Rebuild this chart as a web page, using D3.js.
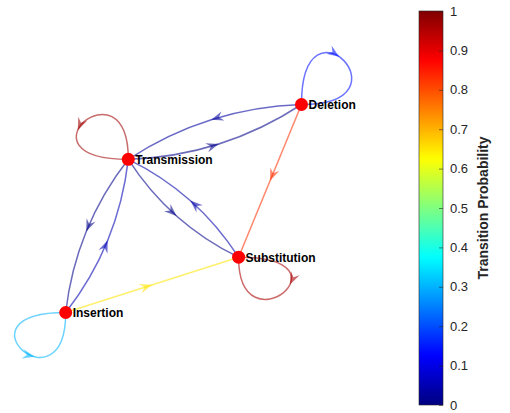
<!DOCTYPE html>
<html>
<head>
<meta charset="utf-8">
<script src="https://cdn.jsdelivr.net/npm/d3@7"></script>
<style>
  html, body { margin: 0; padding: 0; background: #fff; }
  svg { display: block; font-family: "Liberation Sans", Arial, Helvetica, sans-serif; }
</style>
</head>
<body>
<svg id="chart" width="510" height="413"></svg>
<script>
// ---------- data ----------
const nodeNames = ["Transmission", "Deletion", "Substitution", "Insertion"];
// graph layout coordinates (unit square, y up)
const layoutX = [0.3185, 0.8279, 0.6429, 0.1344];
const layoutY = [0.6491, 0.8103, 0.3612, 0.1985];

const edgeSource = ["Transmission", "Transmission", "Transmission", "Transmission",
                    "Deletion", "Deletion", "Deletion",
                    "Substitution", "Substitution",
                    "Insertion", "Insertion", "Insertion"];
const edgeTarget = ["Transmission", "Deletion", "Substitution", "Insertion",
                    "Deletion", "Transmission", "Substitution",
                    "Substitution", "Transmission",
                    "Insertion", "Transmission", "Substitution"];
const edgeProb   = [0.97, 0.01, 0.01, 0.01,
                    0.14, 0.03, 0.83,
                    0.96, 0.04,
                    0.30, 0.05, 0.65];

const cbTicks = [0, 0.1, 0.2, 0.3, 0.4, 0.5, 0.6, 0.7, 0.8, 0.9, 1];
const cbTitle = "Transition Probability";

// ---------- styles ----------
const loopStyle = {
  "Transmission": { dirs: [[0, -1], [-1, 0]], size: [101, 117], arrowT: 0.6 },
  "Deletion":     { dirs: [[0, -1], [1, 0]],  size: [117, 113], arrowT: 0.45 },
  "Substitution": { dirs: [[1, 0], [0, 1]],   size: [119, 95],  arrowT: 0.4 },
  "Insertion":    { dirs: [[-1, 0], [0, 1]],  size: [115, 101], arrowT: 0.62 }
};
const EDGE_ALPHA = 0.58;
const BOW = 0.14;

// jet colormap
function jet(v) {
  const c = x => Math.max(0, Math.min(1, x));
  const r = c(Math.min(4 * v - 1.5, -4 * v + 4.5));
  const g = c(Math.min(4 * v - 0.5, -4 * v + 3.5));
  const b = c(Math.min(4 * v + 0.5, -4 * v + 2.5));
  return d3.rgb(r * 255, g * 255, b * 255).formatHex();
}
const color = d3.scaleSequential(jet).domain([0, 1]);

const svg = d3.select("#chart");
const xS = d3.scaleLinear().domain([0, 1]).range([20, 360]);
const yS = d3.scaleLinear().domain([0, 1]).range([380, 40]);

const nodes = nodeNames.map((n, i) => ({ name: n, x: xS(layoutX[i]), y: yS(layoutY[i]) }));
const byName = Object.fromEntries(nodes.map(n => [n.name, n]));

const edges = edgeSource.map((s, i) => ({ s, t: edgeTarget[i], p: edgeProb[i] }));
const hasEdge = (a, b) => edges.some(e => e.s === a && e.t === b);

// arrowhead shape (tip at origin, pointing +x)
const AL = 12.5, AW = 4.8;
const arrowPath = `M0,0 L${-AL},${-AW} L${-AL * 0.65},0 L${-AL},${AW} Z`;

const gEdges = svg.append("g");
edges.forEach(e => {
  const A = byName[e.s], B = byName[e.t];
  const col = color(e.p);
  let d, tip, ang;
  if (e.s === e.t) {
    const st = loopStyle[e.s];
    const [u1, u2] = st.dirs, [a1, a2] = st.size;
    const P0 = [A.x, A.y], P1 = [A.x + a1 * u1[0], A.y + a1 * u1[1]],
          P2 = [A.x + a2 * u2[0], A.y + a2 * u2[1]], P3 = P0;
    d = `M${P0}C${P1} ${P2} ${P3}`;
    const t = st.arrowT, mt = 1 - t;
    const bx = mt*mt*mt*P0[0] + 3*mt*mt*t*P1[0] + 3*mt*t*t*P2[0] + t*t*t*P3[0];
    const by = mt*mt*mt*P0[1] + 3*mt*mt*t*P1[1] + 3*mt*t*t*P2[1] + t*t*t*P3[1];
    const dx = 3*mt*mt*(P1[0]-P0[0]) + 6*mt*t*(P2[0]-P1[0]) + 3*t*t*(P3[0]-P2[0]);
    const dy = 3*mt*mt*(P1[1]-P0[1]) + 6*mt*t*(P2[1]-P1[1]) + 3*t*t*(P3[1]-P2[1]);
    tip = [bx, by]; ang = Math.atan2(dy, dx);
  } else if (hasEdge(e.t, e.s)) {
    const dx = B.x - A.x, dy = B.y - A.y, L = Math.hypot(dx, dy);
    const nx = -dy / L, ny = dx / L;
    const C = [(A.x + B.x) / 2 + nx * BOW * L, (A.y + B.y) / 2 + ny * BOW * L];
    d = `M${A.x},${A.y}Q${C} ${B.x},${B.y}`;
    tip = [0.25 * A.x + 0.5 * C[0] + 0.25 * B.x, 0.25 * A.y + 0.5 * C[1] + 0.25 * B.y];
    ang = Math.atan2(dy, dx);
  } else {
    d = `M${A.x},${A.y}L${B.x},${B.y}`;
    tip = [(A.x + B.x) / 2, (A.y + B.y) / 2];
    ang = Math.atan2(B.y - A.y, B.x - A.x);
  }
  gEdges.append("path").attr("d", d).attr("fill", "none")
    .attr("stroke", col).attr("stroke-width", 1.5).attr("stroke-opacity", EDGE_ALPHA);
  gEdges.append("path").attr("d", arrowPath)
    .attr("transform", `translate(${tip[0]},${tip[1]}) rotate(${ang * 180 / Math.PI})`)
    .attr("fill", col).attr("fill-opacity", EDGE_ALPHA).attr("stroke", "none");
});

// nodes
svg.append("g").selectAll("circle").data(nodes).join("circle")
  .attr("cx", d => d.x).attr("cy", d => d.y).attr("r", 6.5).attr("fill", "#ff0000");

// labels
svg.append("g").selectAll("text").data(nodes).join("text")
  .attr("x", d => d.x + 7).attr("y", d => d.y + 4.5)
  .attr("font-size", 12).attr("font-weight", "bold").attr("fill", "#000")
  .text(d => d.name);

// ---------- colorbar ----------
const cbX = 419, cbW = 24;
const cbY = d3.scaleLinear().domain([0, 1]).range([405, 11]);
const defs = svg.append("defs");
const grad = defs.append("linearGradient").attr("id", "jetgrad")
  .attr("x1", 0).attr("y1", 1).attr("x2", 0).attr("y2", 0);
d3.range(0, 1.0001, 0.01).forEach(v => {
  grad.append("stop").attr("offset", v).attr("stop-color", color(v));
});
svg.append("rect").attr("x", cbX).attr("y", cbY(1)).attr("width", cbW)
  .attr("height", cbY(0) - cbY(1)).attr("fill", "url(#jetgrad)")
  .attr("stroke", "#262626").attr("stroke-width", 0.6);

const axis = d3.axisRight(cbY).tickValues(cbTicks).tickSize(-4).tickPadding(7)
  .tickFormat(d => d3.format("~g")(d));
const gAx = svg.append("g").attr("transform", `translate(${cbX + cbW},0)`).call(axis);
gAx.select(".domain").remove();
gAx.selectAll(".tick line").attr("stroke", "#262626").attr("stroke-width", 0.6);
gAx.selectAll(".tick text").attr("font-size", 13).attr("fill", "#262626")
  .attr("font-family", "'Liberation Sans', Arial, sans-serif");

svg.append("text")
  .attr("transform", `translate(488,${(cbY(0) + cbY(1)) / 2}) rotate(-90)`)
  .attr("text-anchor", "middle").attr("font-size", 14).attr("font-weight", "bold")
  .attr("fill", "#262626").text(cbTitle);
</script>
</body>
</html>
